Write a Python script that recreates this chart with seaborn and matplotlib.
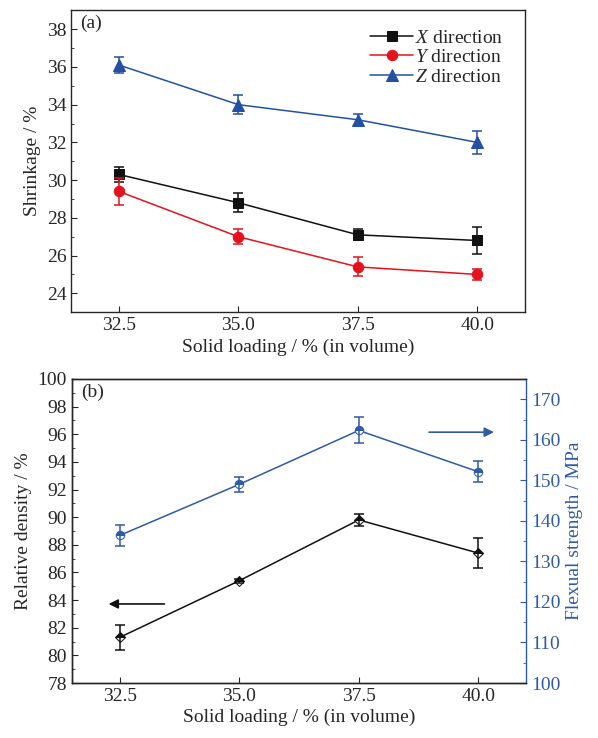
import pandas as pd
import matplotlib
matplotlib.use("Agg")
import matplotlib.pyplot as plt
from matplotlib.ticker import MultipleLocator
import seaborn as sns

# solid loading values (vol %)
loading = [32.5, 35.0, 37.5, 40.0]

# panel (a): shrinkage in three directions
shrink_x = [30.3, 28.8, 27.1, 26.8]
shrink_x_err = [0.4, 0.5, 0.3, 0.7]
shrink_y = [29.4, 27.0, 25.4, 25.0]
shrink_y_err = [0.7, 0.4, 0.5, 0.3]
shrink_z = [36.1, 34.0, 33.2, 32.0]
shrink_z_err = [0.4, 0.5, 0.3, 0.6]

# panel (b): relative density and flexural strength
density = [81.3, 85.4, 89.8, 87.4]
density_err = [0.9, 0.15, 0.45, 1.1]
strength = [136.4, 149.0, 162.3, 152.1]
strength_err = [2.5, 1.9, 3.2, 2.6]

sns.set_style("ticks")
plt.rcParams['font.family'] = ['Liberation Serif', 'DejaVu Serif']
plt.rcParams['mathtext.fontset'] = 'custom'
plt.rcParams['mathtext.rm'] = 'Liberation Serif'
plt.rcParams['mathtext.it'] = 'Liberation Serif:italic'
plt.rcParams['xtick.direction'] = 'in'
plt.rcParams['ytick.direction'] = 'in'

BLACK = '#111111'
RED = '#e3121c'
BLUE = '#2350a0'
BLUE2 = '#2f5aa6'
FS = 14

fig = plt.figure(figsize=(5.98, 7.38), dpi=100)
ax1 = fig.add_axes([0.119, 0.577, 0.759, 0.409])
ax2 = fig.add_axes([0.120, 0.0745, 0.760, 0.412])

# ---------- (a)
lab_x = r'$\mathit{X}$ direction'
lab_y = r'$\mathit{Y}$ direction'
lab_z = r'$\mathit{Z}$ direction'
df_a = pd.DataFrame({
    'loading': loading * 3,
    'shrinkage': shrink_x + shrink_y + shrink_z,
    'err': shrink_x_err + shrink_y_err + shrink_z_err,
    'dir': [lab_x] * 4 + [lab_y] * 4 + [lab_z] * 4,
})
pal = {lab_x: BLACK, lab_y: RED, lab_z: BLUE}
mk = {lab_x: 's', lab_y: 'o', lab_z: '^'}
ms = {lab_x: 6.5, lab_y: 7.5, lab_z: 8}
for name, grp in df_a.groupby('dir', sort=False):
    sns.lineplot(data=grp, x='loading', y='shrinkage', ax=ax1, color=pal[name],
                 marker=mk[name], markersize=ms[name], markeredgecolor=pal[name],
                 linewidth=1.1, label=name)
    ax1.errorbar(grp['loading'], grp['shrinkage'], yerr=grp['err'], fmt='none',
                 ecolor=pal[name], elinewidth=1.1, capsize=3.5, capthick=1.1)

ax1.set_xlim(31.5, 41.0)
ax1.set_ylim(23, 39)
ax1.set_xticks(loading)
ax1.set_xticklabels(['32.5', '35.0', '37.5', '40.0'])
ax1.yaxis.set_major_locator(MultipleLocator(2))
ax1.yaxis.set_minor_locator(MultipleLocator(1))
ax1.set_xlabel('Solid loading / % (in volume)', fontsize=FS, labelpad=3)
ax1.set_ylabel('Shrinkage / %', fontsize=FS)
ax1.tick_params(labelsize=FS, length=4)
ax1.tick_params(which='minor', length=2.5)
ax1.text(0.02, 0.985, '(a)', transform=ax1.transAxes, fontsize=FS, va='top', ha='left')
leg = ax1.legend(loc='upper right', bbox_to_anchor=(0.97, 0.964), frameon=False,
                 fontsize=FS, handlelength=2.2, handletextpad=0.1, labelspacing=0.1,
                 borderaxespad=0)
for sp in ax1.spines.values():
    sp.set_linewidth(1.0)

# ---------- (b)
df_b = pd.DataFrame({'loading': loading, 'density': density, 'strength': strength})
sns.lineplot(data=df_b, x='loading', y='density', ax=ax2, color=BLACK, marker='D',
             markersize=5.5, fillstyle='top', markerfacecoloralt='white',
             markeredgecolor=BLACK, linewidth=1.1)
ax2.errorbar(loading, density, yerr=density_err, fmt='none', ecolor=BLACK,
             elinewidth=1.1, capsize=3.5, capthick=1.1)

ax3 = ax2.twinx()
sns.lineplot(data=df_b, x='loading', y='strength', ax=ax3, color=BLUE2, marker='o',
             markersize=6, fillstyle='top', markerfacecoloralt='white',
             markeredgecolor=BLUE2, linewidth=1.1)
ax3.errorbar(loading, strength, yerr=strength_err, fmt='none', ecolor=BLUE2,
             elinewidth=1.1, capsize=3.5, capthick=1.1)

ax2.set_xlim(31.5, 41.0)
ax2.set_ylim(78, 100)
ax3.set_ylim(100, 175)
ax2.set_xticks(loading)
ax2.set_xticklabels(['32.5', '35.0', '37.5', '40.0'])
ax2.yaxis.set_major_locator(MultipleLocator(2))
ax2.yaxis.set_minor_locator(MultipleLocator(1))
ax3.yaxis.set_major_locator(MultipleLocator(10))
ax3.yaxis.set_minor_locator(MultipleLocator(5))
ax2.set_xlabel('Solid loading / % (in volume)', fontsize=FS, labelpad=3)
ax2.set_ylabel('Relative density / %', fontsize=FS)
ax3.set_ylabel('Flexual strength / MPa', fontsize=FS, color=BLUE2)
ax2.tick_params(labelsize=FS, length=4)
ax2.tick_params(which='minor', length=2.5)
ax3.tick_params(labelsize=FS, length=4, colors=BLUE2)
ax3.tick_params(which='minor', length=2.5, colors=BLUE2)
ax3.spines['right'].set_color(BLUE2)
ax2.spines['right'].set_visible(False)
for a in (ax2, ax3):
    for sp in ('left', 'top', 'bottom'):
        a.spines[sp].set_linewidth(1.0)
    a.spines['right'].set_linewidth(1.0)
ax2.text(0.02, 0.985, '(b)', transform=ax2.transAxes, fontsize=FS, va='top', ha='left')

ax2.annotate('', xy=(0.075, 0.26), xytext=(0.21, 0.26), xycoords='axes fraction',
             arrowprops=dict(arrowstyle='-|>', color=BLACK, lw=1.2, mutation_scale=14))
ax2.annotate('', xy=(0.935, 0.825), xytext=(0.78, 0.825), xycoords='axes fraction',
             arrowprops=dict(arrowstyle='-|>', color=BLUE2, lw=1.2, mutation_scale=14))

fig.savefig('out.png', dpi=100)
